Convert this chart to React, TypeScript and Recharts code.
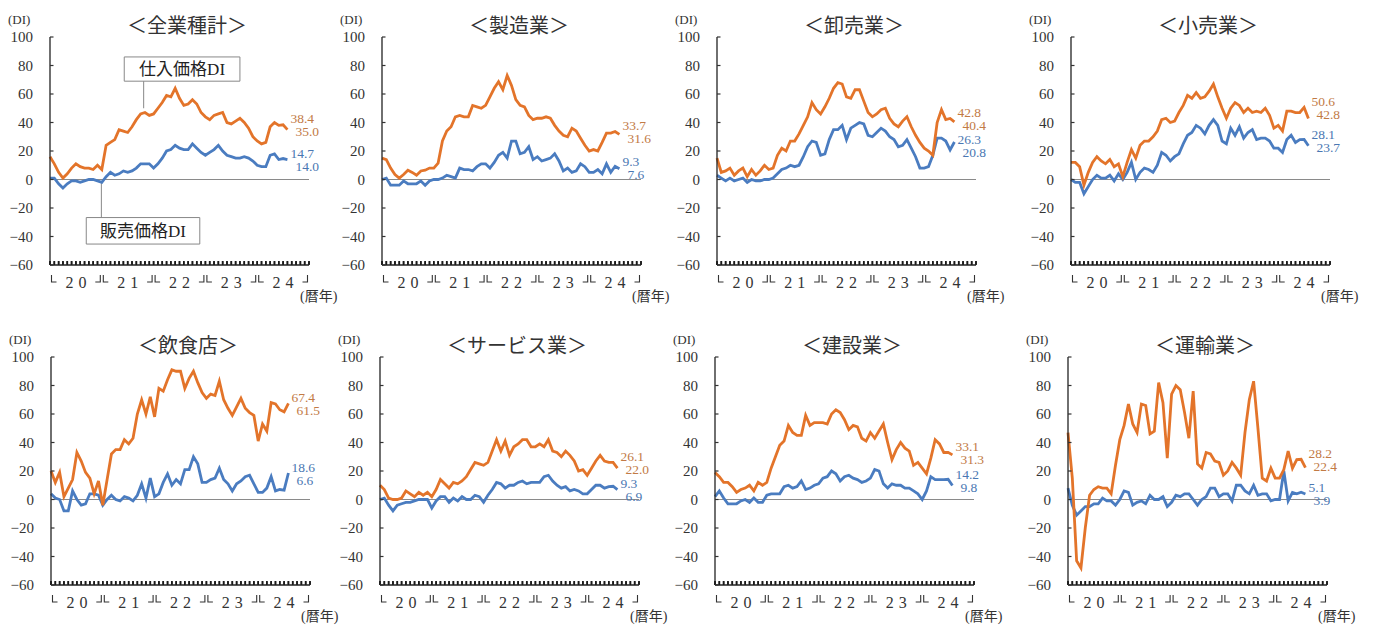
import React from 'react';
import { LineChart, Line, XAxis, YAxis, ReferenceLine, ReferenceArea } from 'recharts';

const BUY_COLOR = '#E3742A';
const SELL_COLOR = '#4A7CC0';
const BUY_TEXT = '#C27A45';
const SELL_TEXT = '#4A77B2';
const FONT = '"Liberation Serif", "Noto Sans CJK JP", serif';

const titles = ['＜全業種計＞', '＜製造業＞', '＜卸売業＞', '＜小売業＞', '＜飲食店＞', '＜サービス業＞', '＜建設業＞', '＜運輸業＞'];
const yearLabels = ['20', '21', '22', '23', '24'];
const yTicks = [-60, -40, -20, 0, 20, 40, 60, 80, 100];
const monthTicks = Array.from({ length: 61 }, (_, i) => i);

// 仕入価格DI / 販売価格DI, monthly from Jan 2020
const allBuy = [16, 11, 5, 1, 4, 8, 11, 9, 8, 8, 7, 10, 7, 24, 26, 28, 35, 34, 33, 37, 42, 46, 47, 45, 46, 50, 54, 59, 58, 64, 57, 52, 53, 56, 53, 47, 44, 42, 45, 46, 47, 40, 39, 41, 43, 40, 36, 30, 27, 25, 26, 37, 40, 38, 38.4, 35.0];
const allSell = [1, 1, -3, -6, -3, -1, -1, -2, -1, 0, 0, -1, -2, 2, 5, 3, 4, 6, 5, 6, 8, 11, 11, 11, 8, 11, 15, 20, 21, 24, 22, 21, 21, 25, 22, 19, 17, 19, 21, 24, 20, 17, 16, 15, 15, 16, 15, 13, 10, 9, 9, 17, 18, 14, 14.7, 14.0];
const mfgBuy = [15, 14, 8, 3.5, 1, 3.5, 6.5, 5, 3, 6, 6.5, 8, 8, 11.5, 27, 34, 37, 44, 45, 44, 44, 52, 51, 50, 52, 58, 64, 68.6, 63, 73, 66, 56, 52, 51, 45, 42, 43, 43, 44, 43, 38, 34, 31, 30, 36, 34, 29, 24, 20, 21, 20, 26, 32.6, 32.6, 33.7, 31.6];
const mfgSell = [0, 1, -4, -4, -4, -1, -3, -3, -3, -1, -4, -1, 0, 0, 1, 3, 2, 1, 8, 7, 7, 6, 9, 11, 11, 8, 12, 17, 19, 15, 27, 27, 18, 19, 23, 14, 16, 13, 14, 15, 18, 13, 6, 8, 5, 6, 11, 9, 5, 5, 7, 4, 11, 5, 9.3, 7.6];
const wholesaleBuy = [15, 5, 6, 8, 3, 6, 8, 2, 7, 3, 6, 10, 7, 8, 17, 22, 20, 27, 27, 32, 38, 44, 54, 49, 46, 51, 57, 64, 68, 67, 58, 57, 63, 63, 55, 47, 44, 46, 49, 50, 43, 39, 37, 41, 44, 37, 31, 26, 22, 20, 17, 40, 49, 42, 42.8, 40.4];
const wholesaleSell = [3, 1, -1, 1, -1, 0, 1, -2, 0, -1, -1, 0, 0, 1, 4, 7, 8, 10, 9, 10, 16, 23, 27, 26, 17, 18, 28, 35, 35, 38, 28, 36, 38, 40, 39, 31, 30, 33, 36, 34, 30, 28, 23, 24, 28, 22, 16, 8, 8, 9, 17, 29, 29, 27, 20.8, 26.3];
const retailBuy = [12, 12, 9, -4, 5, 12, 16, 13, 11, 14, 9, 11, 2, 12, 21, 15, 24, 27, 27, 30, 34, 42, 43, 40, 41, 47, 52, 59, 57, 61, 57, 58, 62, 67, 58, 50, 43, 50, 54, 52, 47, 50, 47, 48, 47, 50, 45, 36, 38, 34, 48, 48, 47, 47, 50.6, 42.8];
const retailSell = [0, -2, -2, -10, -5, 0, 3, 1, 1, 3, -1, 4, 0, 5, 12, 0, 5, 8, 7, 5, 10, 19, 17, 13, 16, 18, 25, 31, 33, 38, 36, 32, 38, 42, 38, 27, 25, 36, 31, 37, 29, 33, 35, 28, 29, 29, 27, 22, 22, 19, 28, 31, 26, 28, 28.1, 23.7];
const foodBuy = [20, 12, 19, 2, 8, 14, 33, 27, 19, 15, 4, 13, -4, 14, 32, 35, 35, 42, 39, 43, 60, 70, 60, 72, 58, 78, 76, 84, 91, 90, 90, 78, 85, 90, 82, 75, 71, 74, 73, 83, 70, 64, 59, 65, 71, 64, 61, 59, 41, 53, 48, 68, 67, 63, 61.5, 67.4];
const foodSell = [4, 1, 0, -8, -8, 6, 0, -4, -3, 4, 4, 3, -4, 0, 3, 0, -1, 2, 1, -1, 3, 11, 1, 15, 2, 4, 12, 18, 10, 14, 11, 21, 21, 30, 25, 12, 12, 14, 15, 22, 14, 11, 6, 11, 13, 16, 17, 11, 5, 5, 8, 16, 6, 7, 6.6, 18.6];
const serviceBuy = [10, 7, 1, 0, 0, 1, 6, 4, 2, 5, 3, 5, 2, 7, 14, 11, 8, 12, 11, 13, 16, 21, 26, 25, 24, 26, 34, 42, 34, 41, 31, 37, 39, 42, 42, 37, 37, 39, 37, 42, 34, 33, 30, 34, 31, 27, 20, 21, 17, 22, 27, 31, 27, 26, 26.1, 22.0];
const serviceSell = [0, 1, -4, -8, -4, -3, -2, -2, -1, 0, 0, 0, -6, -1, 2, 2, -2, 1, -1, 2, 0, 0, 3, 2, -2, 3, 7, 12, 11, 8, 10, 10, 12, 13, 11, 12, 12, 12, 16, 17, 13, 10, 8, 9, 6, 7, 6, 4, 4, 7, 10, 10, 8, 9, 9.3, 6.9];
const buildBuy = [19, 16, 12, 12, 9, 5, 7, 8, 10, 6, 12, 10, 12, 22, 30, 38, 41, 52, 47, 45, 45, 59, 52, 54, 54, 54, 53, 60, 63, 61, 56, 49, 52, 51, 43, 41, 47, 43, 48, 53, 40, 28, 35, 40, 36, 34, 24, 26, 22, 18, 29, 42, 39, 33, 33.1, 31.3];
const buildSell = [2, 6, 1, -3, -3, -3, -1, 0, -2, 1, -2, -2, 3, 4, 4, 4, 9, 10, 8, 9, 13, 7, 8, 10, 11, 15, 16, 20, 18, 13, 16, 17, 15, 14, 12, 13, 15, 21, 20, 11, 8, 11, 10, 10, 8, 8, 6, 4, 0, 6, 16, 14, 14, 14, 14.2, 9.8];
const transportBuy = [47, 15, -43, -48, -20, 3, 7, 9, 8, 8, 4, 24, 42, 52, 67, 53, 47, 67, 66, 46, 48, 82, 68, 29, 74, 80, 77, 61, 43, 76, 25, 22, 33, 32, 27, 26, 17, 20, 26, 22, 17, 47, 70, 83, 50, 15, 13, 22, 15, 15, 21, 34, 22, 28, 28.2, 22.4];
const transportSell = [8, -4, -11, -8, -5, -5, -3, -3, 1, -1, -1, -4, 0, 6, 5, -4, -2, -1, -3, 3, 0, 0, 2, -5, -2, 3, 2, 4, 4, 0, -4, 0, 2, 8, 8, 2, 4, 4, -1, 10, 10, 6, 4, 10, 3, 4, 4, -1, 0, 0, 20, -1, 5, 4, 5.1, 3.9];

const buySeries = [allBuy, mfgBuy, wholesaleBuy, retailBuy, foodBuy, serviceBuy, buildBuy, transportBuy];
const sellSeries = [allSell, mfgSell, wholesaleSell, retailSell, foodSell, serviceSell, buildSell, transportSell];

const CHART_W = 345;
const CHART_H = 310;
const AXIS_W = 50;
const PLOT_TOP = 37;
const PLOT_H = 228;
const PLOT_W = 259;
const LABEL_GAP = 13;

// chart box top-left for each panel
const slots: [number, number][] = [
  [0, 0], [331.5, 0], [666.5, 0], [1020.5, 0],
  [0.5, 320], [330, 320], [665, 320], [1018, 320],
];

function XTick(props: any) {
  const { x, y, payload } = props;
  const v = payload.value as number;
  const yi = (v - 6) / 12;
  return (
    <g>
      <rect x={x - 0.8} y={y - 4} width={1.6} height={4} fill="#1a1a1a" />
      {v % 12 === 0 && v < 60 && (
        <path d={`M${x + 1.5},${y + 10} V${y + 17} H${x + 6.5}`} fill="none" stroke="#333" strokeWidth={1.1} />
      )}
      {v % 12 === 0 && v > 0 && (
        <path d={`M${x - 1.5},${y + 10} V${y + 17} H${x - 6.5}`} fill="none" stroke="#333" strokeWidth={1.1} />
      )}
      {Number.isInteger(yi) && yi >= 0 && yi < yearLabels.length && (
        <text x={x} dx={2.5} y={y + 23} textAnchor="middle" fontSize={16} letterSpacing={5} fill="#333" fontFamily={FONT}>
          {yearLabels[yi]}
        </text>
      )}
    </g>
  );
}

function YTick(props: any) {
  const { x, y, payload } = props;
  const v = payload.value as number;
  return (
    <g>
      <line x1={x} x2={x + 3.5} y1={y} y2={y} stroke="#333" strokeWidth={1.2} />
      <text x={x - 17} y={y} dy={5} textAnchor="end" fontSize={15} fill="#333" fontFamily={FONT}>
        {v < 0 ? `−${-v}` : v}
      </text>
    </g>
  );
}

// two latest values at the line end, larger one on top; `aboveHi` keeps the
// lower pair clear of the pair drawn above it
function endLabel(series: number[], color: string, aboveHi?: number) {
  const last = series.length - 1;
  const hi = Math.max(series[last], series[last - 1]);
  const lo = Math.min(series[last], series[last - 1]);
  return (props: any) => {
    if (props.index !== last) return null;
    const px = props.x ?? props.viewBox?.x;
    const py = props.y ?? props.viewBox?.y;
    const k = PLOT_H / 160;
    const yOf = (v: number) => py - (v - series[last]) * k;
    let yTop = yOf(hi) - 5;
    if (aboveHi !== undefined) {
      const aboveBottom = yOf(aboveHi) - 6 + LABEL_GAP;
      yTop = Math.max(yTop, aboveBottom + 14);
    } else {
      yTop -= 1;
    }
    const yBot = yTop + LABEL_GAP;
    return (
      <g fontSize={13.5} fill={color} fontFamily={FONT}>
        <text x={px + 3} y={yTop} dy={4.5}>{hi.toFixed(1)}</text>
        <text x={px + 8} y={yBot} dy={4.5}>{lo.toFixed(1)}</text>
      </g>
    );
  };
}

function Panel({ idx }: { idx: number }) {
  const buy = buySeries[idx];
  const sell = sellSeries[idx];
  const rows = buy.map((b, m) => ({ m, buy: b, sell: sell[m] }));
  const [left, top] = slots[idx];
  const buyHi = Math.max(buy[buy.length - 1], buy[buy.length - 2]);
  return (
    <div style={{ position: 'absolute', left, top, width: CHART_W, height: CHART_H }}>
      <LineChart
        width={CHART_W}
        height={CHART_H}
        data={rows}
        margin={{ top: PLOT_TOP, left: 0, right: CHART_W - AXIS_W - PLOT_W, bottom: CHART_H - PLOT_TOP - PLOT_H - 30 }}
      >
        <XAxis
          dataKey="m"
          type="number"
          domain={[0, 60]}
          ticks={monthTicks}
          interval={0}
          tick={(p: any) => <XTick {...p} />}
          tickLine={false}
          tickSize={0}
          tickMargin={0}
          height={30}
          axisLine={{ stroke: '#222', strokeWidth: 1.3 }}
        />
        <YAxis
          type="number"
          domain={[-60, 100]}
          ticks={yTicks}
          interval={0}
          tick={(p: any) => <YTick {...p} />}
          tickLine={false}
          tickSize={0}
          tickMargin={0}
          width={AXIS_W}
          axisLine={{ stroke: '#222', strokeWidth: 1.3 }}
        />
        {monthTicks.map((m) => (
          <ReferenceLine
            key={`t${m}`}
            segment={[{ x: m, y: -59.6 }, { x: m, y: -57.3 }]}
            stroke="#1a1a1a"
            strokeWidth={1.6}
            ifOverflow="visible"
          />
        ))}
        <ReferenceLine y={0} stroke="#8a8a8a" strokeWidth={1} />
        {idx === 0 && (
          <ReferenceArea
            x1={17.2}
            x2={44}
            y1={69}
            y2={86}
            fill="#fff"
            fillOpacity={1}
            stroke="#888"
            strokeWidth={1}
            label={{ value: '仕入価格DI', position: 'center', fontSize: 17, fill: '#222', fontFamily: FONT }}
          />
        )}
        {idx === 0 && (
          <ReferenceLine segment={[{ x: 21.7, y: 50 }, { x: 21.7, y: 69 }]} stroke="#888" strokeWidth={1} />
        )}
        {idx === 0 && (
          <ReferenceArea
            x1={8.4}
            x2={34.7}
            y1={-45.3}
            y2={-26.7}
            fill="#fff"
            fillOpacity={1}
            stroke="#888"
            strokeWidth={1}
            label={{ value: '販売価格DI', position: 'center', fontSize: 17, fill: '#222', fontFamily: FONT }}
          />
        )}
        {idx === 0 && (
          <ReferenceLine segment={[{ x: 11.9, y: -1 }, { x: 11.9, y: -26.7 }]} stroke="#888" strokeWidth={1} />
        )}
        <Line
          dataKey="sell"
          type="linear"
          stroke={SELL_COLOR}
          strokeWidth={2.8}
          dot={false}
          activeDot={false}
          isAnimationActive={false}
          label={endLabel(sell, SELL_TEXT, buyHi)}
        />
        <Line
          dataKey="buy"
          type="linear"
          stroke={BUY_COLOR}
          strokeWidth={2.8}
          dot={false}
          activeDot={false}
          isAnimationActive={false}
          label={endLabel(buy, BUY_TEXT)}
        />
      </LineChart>
      <svg
        width={CHART_W}
        height={CHART_H}
        style={{ position: 'absolute', left: 0, top: 0, overflow: 'visible', pointerEvents: 'none' }}
      >
        <text x={AXIS_W + 137} y={33} textAnchor="middle" fontSize={20} fill="#333" fontFamily={FONT}>
          {titles[idx]}
        </text>
        <text x={8} y={24} fontSize={13} fill="#333" fontFamily={FONT}>(DI)</text>
        <text x={AXIS_W + 250} y={301} fontSize={14} fill="#333" fontFamily={FONT}>(暦年)</text>
      </svg>
    </div>
  );
}

export default function App() {
  return (
    <div style={{ position: 'absolute', left: 0, top: 0, width: 1375, height: 626, background: '#fff' }}>
      {titles.map((_, i) => (
        <Panel key={i} idx={i} />
      ))}
    </div>
  );
}
